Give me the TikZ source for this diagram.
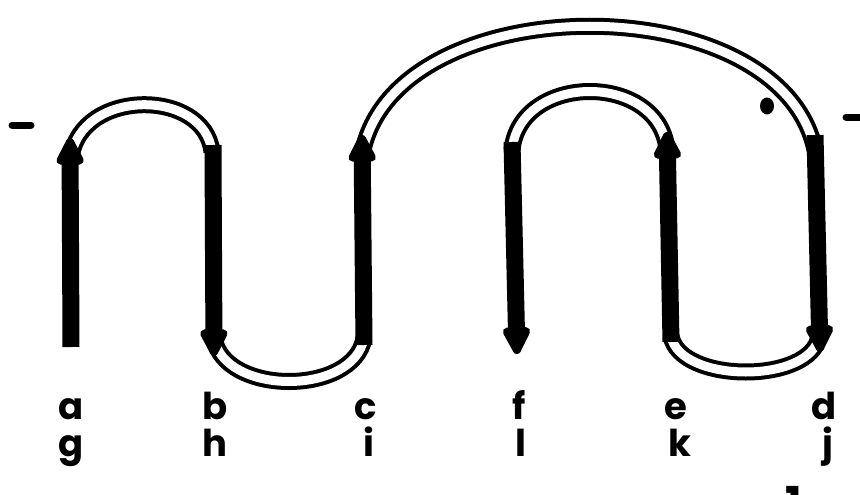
\documentclass[tikz,border=0pt]{standalone}
\usepackage{fontspec}
\setmainfont{Poppins}
\usetikzlibrary{arrows.meta}
\begin{document}
\begin{tikzpicture}[x=1pt,y=-1pt,
  shaft/.style={line width=17pt, -{Triangle[length=32pt,width=30pt,round]}},
  wire/.style={double=white, draw=black, line width=4pt, double distance=9pt},
  lbl/.style={font=\fontsize{37}{37}\selectfont\bfseries, anchor=base, inner sep=0pt},
  dashmark/.style={line width=7pt, line cap=round}]
\useasboundingbox (0,0) rectangle (860,495);
% arrow end points
\coordinate (aB) at (71,347);  \coordinate (aT) at (70,138);
\coordinate (bT) at (213,145); \coordinate (bB) at (214,356);
\coordinate (cB) at (364,345); \coordinate (cT) at (362,135);
\coordinate (fT) at (512,142); \coordinate (fB) at (517,354);
\coordinate (eB) at (671,342); \coordinate (eT) at (667,132);
\coordinate (dT) at (815,135); \coordinate (dB) at (820,352);
% double wires
\draw[wire] (71,158) .. controls (80,88) and (205,88) .. (212,152);
\draw[wire] (214,338) .. controls (224,396) and (354,396) .. (364,338);
\draw[wire] (363,150) .. controls (400,-15) and (780,-15) .. (815,150);
\draw[wire] (512,150) .. controls (520,72) and (660,72) .. (667,150);
\draw[wire] (671,336) .. controls (680,384) and (812,384) .. (819,336);
% thick arrows
\draw[shaft] (aB) -- (aT);
\draw[shaft] (bT) -- (bB);
\draw[shaft] (cB) -- (cT);
\draw[shaft] (fT) -- (fB);
\draw[shaft] (eB) -- (eT);
\draw[shaft] (dT) -- (dB);
% marks
\draw[dashmark] (12,125) -- (31,125);
\draw[dashmark] (846,117) -- (862,117);
\fill (767,106) ellipse (7pt and 8.5pt);
% labels
\node[lbl] (la) at (71,419) {a};
\node[lbl] (lb) at (215,419) {b};
\node[lbl] (lc) at (366,419) {c};
\node[lbl] (lf) at (519,419) {f};
\node[lbl] (le) at (676,419) {e};
\node[lbl] (ld) at (824,419) {d};
\node[lbl] (lg) at (71,456) {g};
\node[lbl] (lh) at (215,456) {h};
\node[lbl] (li) at (369,456) {i};
\node[lbl] (ll) at (521,456) {l};
\node[lbl] (lk) at (680,456) {k};
\node[lbl] (lj) at (828,456) {j};
\node[lbl, anchor=north, font=\fontsize{44}{44}\selectfont\bfseries] (one) at (794,486) {1};
\end{tikzpicture}
\end{document}
